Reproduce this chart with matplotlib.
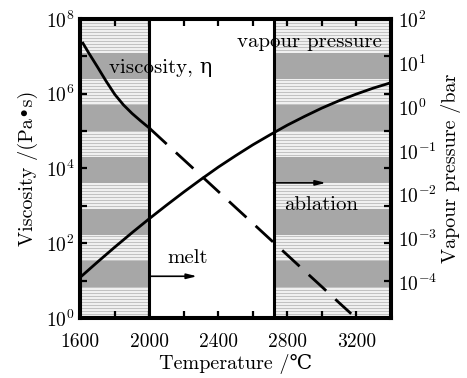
import numpy as np
import matplotlib
matplotlib.use("Agg")
import matplotlib.pyplot as plt

plt.rcParams['font.family'] = ['cmr10', 'DejaVu Serif', 'DejaVu Sans']
plt.rcParams['mathtext.fontset'] = 'cm'
plt.rcParams['axes.formatter.use_mathtext'] = True

# viscosity (Pa s) vs temperature (C)
visc_temp = [1615, 1650, 1700, 1750, 1800, 1850, 1900, 1950, 2000, 2100,
             2200, 2300, 2400, 2500, 2600, 2700, 2800, 2900, 3000, 3100, 3170]
visc_vals = [2.24e7, 1.2e7, 5.13e6, 2.14e6, 9.5e5, 5.0e5, 2.95e5, 1.86e5,
             1.2e5, 4.5e4, 1.7e4, 6.4e3, 2.4e3, 900, 339, 127, 48, 18, 6.8,
             2.54, 1.29]

# vapour pressure (bar) vs temperature (C)
vap_temp = [1600, 1700, 1800, 1900, 2000, 2100, 2200, 2300, 2400, 2500,
            2600, 2700, 2800, 2900, 3000, 3100, 3200, 3300, 3400]
vap_vals = [1.29e-4, 2.88e-4, 6.31e-4, 1.35e-3, 2.82e-3, 5.75e-3, 1.15e-2,
            2.24e-2, 4.27e-2, 7.76e-2, 0.138, 0.234, 0.389, 0.617, 0.955,
            1.41, 2.0, 2.75, 3.63]

melt_T = 2000
ablation_T = 2720
t_min, t_max = 1600, 3400

x_ticks = [1600, 1800, 2000, 2200, 2400, 2600, 2800, 3000, 3200, 3400]
x_labels = ['1600', '', '2000', '', '2400', '', '2800', '', '3200', '']
left_exp = [0, 1, 2, 3, 4, 5, 6, 7, 8]
right_exp = [-4, -3, -2, -1, 0, 1, 2]

fig = plt.figure(figsize=(4.67, 3.78), dpi=100)
ax = fig.add_axes([0.172, 0.159, 0.665, 0.791])
ax2 = ax.twinx()

# shaded regions: dark bands + fine stripes
band_start = 0.104
band_period = 0.1735
band_width = 0.087
for x0, x1 in [(t_min, melt_T), (ablation_T, t_max)]:
    ax.axvspan(x0, x1, 0, 1, color='#f3f3f3', lw=0, zorder=0)
    stripes = np.arange(0.004, 1.0, 3.0 / 299)
    ax.hlines(stripes, x0, x1, transform=ax.get_xaxis_transform(),
              colors='#c2c2c2', lw=0.8, zorder=0.5)
    for k in range(5):
        y0 = band_start + k * band_period
        ax.axvspan(x0, x1, y0, y0 + band_width, color='#a7a7a7', lw=0, zorder=1)

ax.axvline(melt_T, color='black', lw=2.2, zorder=2)
ax.axvline(ablation_T, color='black', lw=2.2, zorder=2)

# viscosity: solid below melt, dashed above
vt = np.array(visc_temp)
vv = np.array(visc_vals)
ax.plot(vt[vt <= melt_T], vv[vt <= melt_T], color='black', lw=2, zorder=3)
ax.plot(vt[vt >= melt_T], vv[vt >= melt_T], color='black', lw=2,
        linestyle=(0, (8.5, 4.5)), zorder=3)

ax2.plot(vap_temp, vap_vals, color='black', lw=2, zorder=3)

ax.set_yscale('log')
ax.set_ylim(1, 1e8)
ax.set_xlim(t_min, t_max)
ax2.set_yscale('log')
ax2.set_ylim(10 ** -4.82, 10 ** 2.02)

ax.set_xticks(x_ticks)
ax.set_xticklabels(x_labels)
ax.set_yticks([10.0 ** e for e in left_exp])
ax.set_yticklabels([r'$10^{%d}$' % e if e % 2 == 0 else '' for e in left_exp])
ax.yaxis.set_minor_locator(matplotlib.ticker.NullLocator())
ax.tick_params(direction='in', length=5, width=1.6, labelsize=14,
               top=True, right=True, pad=4)
ax.tick_params(axis='x', pad=11)

ax2.set_yticks([10.0 ** e for e in right_exp])
ax2.set_yticklabels([r'$10^{%d}$' % e for e in right_exp])
ax2.yaxis.set_minor_locator(matplotlib.ticker.NullLocator())
ax2.tick_params(axis='y', length=0, labelsize=14, pad=5)

for a in (ax, ax2):
    for s in a.spines.values():
        s.set_linewidth(2.9)

ax.set_xlabel('Temperature /℃', fontsize=14.5, labelpad=2)
ax.set_ylabel('Viscosity /(Pa•s)', fontsize=14.5, labelpad=6)
ax2.set_ylabel('Vapour pressure /bar', fontsize=14.5, labelpad=3)

ax.text(1765, 4.8e6, 'viscosity, η', fontsize=15, ha='left', va='center', zorder=4)
ax.text(2510, 2.4e7, 'vapour pressure', fontsize=15, ha='left', va='center', zorder=4)
ax.text(2224, 40, 'melt', fontsize=15, ha='center', va='center', zorder=4)
ax.text(2994, 1.05e3, 'ablation', fontsize=15, ha='center', va='center', zorder=4)

ax.annotate('', xy=(2276, 13), xytext=(melt_T, 13),
            arrowprops=dict(arrowstyle='-|>,head_length=0.6,head_width=0.15',
                            color='black', lw=1.2, shrinkA=0, shrinkB=0), zorder=4)
ax.annotate('', xy=(3023, 4.1e3), xytext=(ablation_T, 4.1e3),
            arrowprops=dict(arrowstyle='-|>,head_length=0.6,head_width=0.15',
                            color='black', lw=1.2, shrinkA=0, shrinkB=0), zorder=4)

fig.savefig('out.png', dpi=100)
